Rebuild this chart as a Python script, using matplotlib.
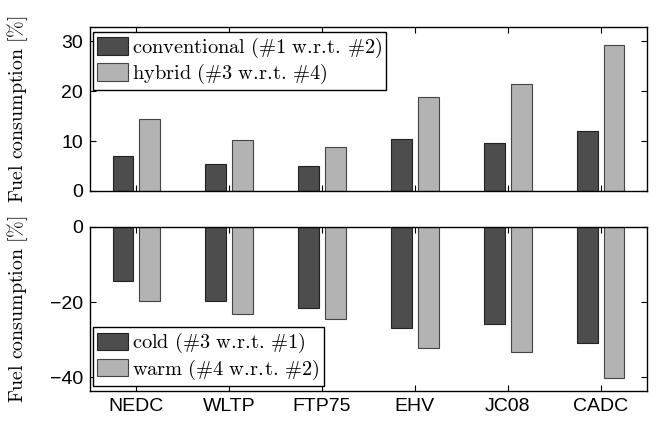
import numpy as np
import matplotlib
matplotlib.use("Agg")
import matplotlib.pyplot as plt

# drive cycles and relative fuel consumption [%]
cycles = ["NEDC", "WLTP", "FTP75", "EHV", "JC08", "CADC"]
conventional = [7.0, 5.5, 5.0, 10.5, 9.7, 12.0]
hybrid = [14.4, 10.3, 8.9, 18.9, 21.4, 29.3]
cold = [-14.4, -19.8, -21.7, -27.0, -25.9, -31.0]
warm = [-19.7, -23.3, -24.4, -32.3, -33.2, -40.2]

plt.rcParams['font.family'] = ['Liberation Sans', 'DejaVu Sans']
plt.rcParams['mathtext.fontset'] = 'cm'

dark = '#4d4d4d'
light = '#b3b3b3'
x = np.arange(1, len(cycles) + 1)
w = 0.225
off = 0.145

fig = plt.figure(figsize=(6.59, 4.22), dpi=100)
ax1 = fig.add_axes([0.1366, 0.5474, 0.8452, 0.3886])
ax2 = fig.add_axes([0.1366, 0.0735, 0.8452, 0.3886])


def tex(s):
    s = s.replace(' ', r'\ ').replace('#', r'\#').replace('%', r'\%')
    s = s.replace('.', r'.\!')
    return r'$\mathrm{' + s + '}$'


def style(ax):
    ax.set_xlim(0.5, 6.5)
    ax.set_xticks(x)
    ax.tick_params(direction='in', length=4, top=True, right=True,
                   labelsize=14, width=0.8, pad=5)
    for s in ax.spines.values():
        s.set_linewidth(1.0)
    ax.set_ylabel(tex('Fuel consumption [%]'), fontsize=14.3)
    ax.yaxis.set_label_coords(-0.107, 0.5)


ax1.bar(x - off, conventional, w, color=dark, edgecolor='#222222', lw=0.8,
        label=tex('conventional (#1 w.r.t. #2)'))
ax1.bar(x + off, hybrid, w, color=light, edgecolor='#444444', lw=0.8,
        label=tex('hybrid (#3 w.r.t. #4)'))
ax1.set_ylim(0, 32.9)
ax1.set_yticks([0, 10, 20, 30])
style(ax1)
ax1.set_xticklabels([])

ax2.bar(x - off, cold, w, color=dark, edgecolor='#222222', lw=0.8,
        label=tex('cold (#3 w.r.t. #1)'))
ax2.bar(x + off, warm, w, color=light, edgecolor='#444444', lw=0.8,
        label=tex('warm (#4 w.r.t. #2)'))
ax2.set_ylim(-43.7, 0)
ax2.set_yticks([-40, -20, 0])
style(ax2)
ax2.set_xticklabels(cycles)

legkw = dict(fontsize=14.7, fancybox=False, framealpha=1,
             edgecolor='k', borderaxespad=0, handlelength=1.5,
             handleheight=0.95, handletextpad=0.2, labelspacing=0.1,
             borderpad=0.2)
l1 = ax1.legend(loc='upper left', bbox_to_anchor=(0.006, 0.972), **legkw)
l2 = ax2.legend(loc='lower left', bbox_to_anchor=(0.006, 0.032), **legkw)
for l in (l1, l2):
    l.get_frame().set_linewidth(1.0)

fig.savefig("out.png", dpi=100)
